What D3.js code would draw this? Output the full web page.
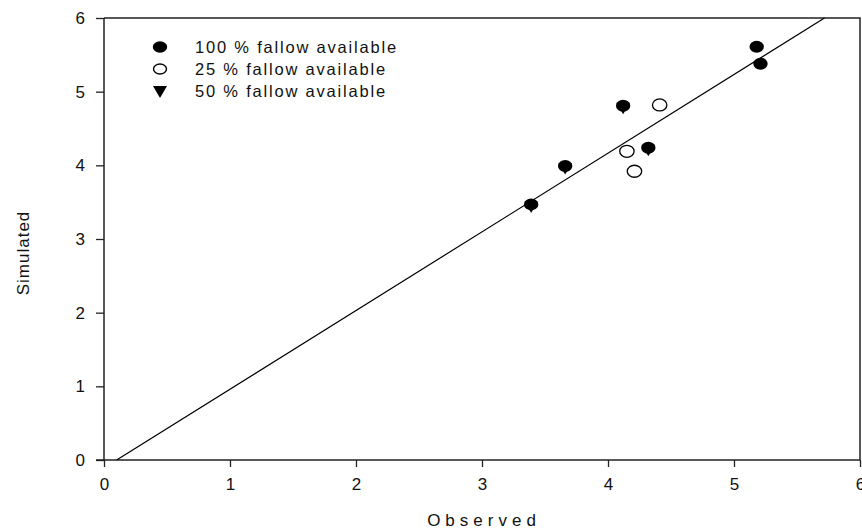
<!DOCTYPE html>
<html>
<head>
<meta charset="utf-8">
<script src="https://cdn.jsdelivr.net/npm/d3@7"></script>
<style>
  body { margin: 0; background: #fff; }
  svg text { font-family: "Liberation Sans", Arial, sans-serif; fill: #111; }
</style>
</head>
<body>
<div id="chart"></div>
<script>
// observed / simulated pairs
const full = [[3.39, 3.47], [3.66, 3.99], [4.12, 4.81], [4.32, 4.24], [5.18, 5.61], [5.21, 5.38]];
const quarter = [[4.15, 4.19], [4.21, 3.92], [4.41, 4.82]];
const half = [[3.39, 3.47], [3.66, 3.99], [4.12, 4.81], [4.32, 4.24]];
const fitLine = { slope: 1.068, intercept: -0.107 };
const xTicks = [0, 1, 2, 3, 4, 5, 6];
const yTicks = [0, 1, 2, 3, 4, 5, 6];
const legendLabels = ['100 % fallow available', '25 % fallow available', '50 % fallow available'];

function drawPlot() {
  const width = 862, height = 531;
  const margin = { left: 104, right: 2, top: 18, bottom: 71 };

  const svg = d3.select('#chart').append('svg')
    .attr('width', width)
    .attr('height', height);

  const x = d3.scaleLinear().domain([0, 6]).range([margin.left, width - margin.right]);
  const y = d3.scaleLinear().domain([0, 6]).range([height - margin.bottom, margin.top]);

  // frame (top + right)
  svg.append('path')
    .attr('d', `M${x(0)},${y(6)}H${x(6)}V${y(0)}`)
    .attr('fill', 'none')
    .attr('stroke', '#222')
    .attr('stroke-width', 1.5);

  const xAxis = svg.append('g')
    .attr('transform', `translate(0,${y(0)})`)
    .call(d3.axisBottom(x).tickValues(xTicks).tickFormat(d3.format('d')).tickSize(7).tickPadding(11));

  const yAxis = svg.append('g')
    .attr('transform', `translate(${x(0)},0)`)
    .call(d3.axisLeft(y).tickValues(yTicks).tickFormat(d3.format('d')).tickSize(8).tickPadding(11));

  [xAxis, yAxis].forEach(g => {
    g.attr('font-size', null);
    g.select('.domain').attr('stroke', '#222').attr('stroke-width', 1.5);
    g.selectAll('.tick line').attr('stroke', '#222').attr('stroke-width', 1.3);
    g.selectAll('.tick text')
      .style('font-family', '"Liberation Sans", Arial, sans-serif')
      .style('font-size', '17px')
      .attr('fill', '#111');
  });
  xAxis.select('.domain').attr('d', `M${x(0)},0H${x(6)}`);
  yAxis.select('.domain').attr('d', `M0,${y(0)}V${y(6)}`);
  // x tick at 0 extends slightly left on the x axis
  svg.append('line')
    .attr('x1', x(0) - 8).attr('x2', x(0))
    .attr('y1', y(0)).attr('y2', y(0))
    .attr('stroke', '#222').attr('stroke-width', 1.5);

  // regression line, clipped to the frame
  const x0 = -fitLine.intercept / fitLine.slope;
  const x1 = (6 - fitLine.intercept) / fitLine.slope;
  svg.append('line')
    .attr('x1', x(x0)).attr('y1', y(0))
    .attr('x2', x(x1)).attr('y2', y(6))
    .attr('stroke', '#000')
    .attr('stroke-width', 1.2);

  const rx = 7.2, ry = 6;
  const tri = (cx, cy) => {
    const w = 6.8, top = cy - 3, bot = cy + 8.5;
    return `M${cx - w},${top}L${cx + w},${top}L${cx},${bot}Z`;
  };

  // 50 % triangles
  svg.append('g').selectAll('path')
    .data(half).enter().append('path')
    .attr('d', d => tri(x(d[0]), y(d[1])))
    .attr('fill', '#000');

  // 100 % filled circles
  svg.append('g').selectAll('ellipse')
    .data(full).enter().append('ellipse')
    .attr('cx', d => x(d[0])).attr('cy', d => y(d[1]))
    .attr('rx', rx).attr('ry', ry)
    .attr('fill', '#000');

  // 25 % open circles
  svg.append('g').selectAll('ellipse')
    .data(quarter).enter().append('ellipse')
    .attr('cx', d => x(d[0])).attr('cy', d => y(d[1]))
    .attr('rx', rx).attr('ry', ry)
    .attr('fill', '#fff')
    .attr('stroke', '#000')
    .attr('stroke-width', 1.3);

  // legend
  const legend = svg.append('g');
  const ly = [47, 69, 91];
  legend.append('ellipse').attr('cx', 160).attr('cy', ly[0]).attr('rx', 7.2).attr('ry', 5.8).attr('fill', '#000');
  legend.append('ellipse').attr('cx', 160).attr('cy', ly[1]).attr('rx', 6.5).attr('ry', 5)
    .attr('fill', '#fff').attr('stroke', '#000').attr('stroke-width', 1.4);
  legend.append('path').attr('d', `M153,${ly[2] - 5}L167,${ly[2] - 5}L160,${ly[2] + 7}Z`).attr('fill', '#000');
  legend.selectAll('text')
    .data(legendLabels).enter().append('text')
    .attr('x', 195)
    .attr('y', (d, i) => ly[i] + 6)
    .style('font-size', '16.5px')
    .style('letter-spacing', '1.8px')
    .text(d => d);

  // axis titles
  svg.append('text')
    .attr('x', (x(0) + x(6)) / 2 + 2)
    .attr('y', 526)
    .attr('text-anchor', 'middle')
    .style('font-size', '17px')
    .style('letter-spacing', '5px')
    .text('Observed');

  svg.append('text')
    .attr('transform', `translate(29,${(y(0) + y(6)) / 2 + 14}) rotate(-90)`)
    .attr('text-anchor', 'middle')
    .style('font-size', '17px')
    .style('letter-spacing', '1px')
    .text('Simulated');
}

window.onload = function () {
  drawPlot();
};
</script>
</body>
</html>
